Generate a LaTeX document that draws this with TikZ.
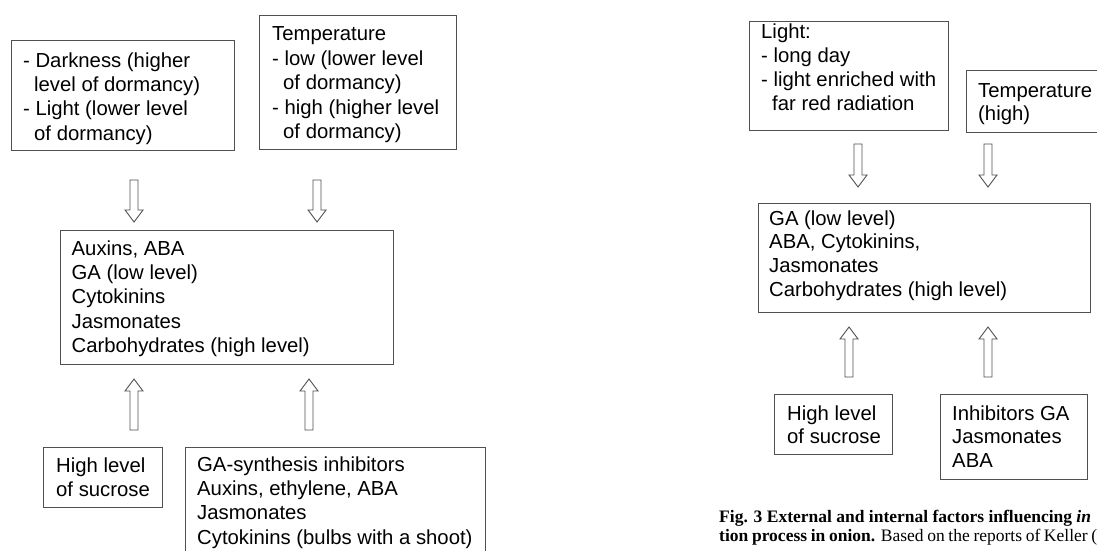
\documentclass[tikz,border=0pt]{standalone}
\usepackage{fontspec}
\setmainfont{Liberation Sans}
\newfontfamily\capfont{Liberation Serif}
\usetikzlibrary{calc}
\definecolor{boxgray}{HTML}{505050}
\tikzset{
  box/.style={draw=boxgray, line width=1pt, inner sep=0pt, anchor=north west, rectangle},
  txt/.style={inner sep=0pt, anchor=base west, font=\fontsize{20.3}{24.4}\selectfont},
  txtr/.style={inner sep=0pt, anchor=base west, font=\fontsize{20.3}{23.9}\selectfont},
  capt/.style={inner sep=0pt, anchor=base west, font=\capfont\fontsize{17.5}{19}\selectfont},
  arrowline/.style={draw=boxgray, line width=0.9pt, fill=white, line join=miter},
}
\newcommand\lns[1]{\begin{tabular}[t]{@{}l@{}}#1\end{tabular}}
\newcommand\hollowarrow[2]{%
  \draw[arrowline] let \p1=(#1), \p2=(#2), \p3=($(#2)!12pt!(#1)$) in
    (\x1-4pt,\y1) -- (\x1-4pt,\y3) -- (\x1-9pt,\y3) -- (\x2,\y2) --
    (\x1+9pt,\y3) -- (\x1+4pt,\y3) -- (\x1+4pt,\y1) -- cycle;}
\begin{document}
\begin{tikzpicture}[x=1pt,y=-1pt]
\useasboundingbox (0,0) rectangle (1097,551);
\clip (0,0) rectangle (1097,551);
\fill[white] (0,0) rectangle (1097,551);

% ---------------- left figure ----------------
\node[box, minimum width=223.5, minimum height=110] (b1) at (10.5,40) {};
\node[txt] (b1t) at (23,67) {\lns{- Darkness (higher\\ \hspace*{11pt}level of dormancy)\\ - Light (lower level\\ \hspace*{11pt}of dormancy)}};

\node[box, minimum width=197, minimum height=134] (b2) at (259,15) {};
\node[txt] (b2t) at (272,41) {\lns{Temperature\\ - low (lower level\\ \hspace*{11pt}of dormancy)\\ - high (higher level\\ \hspace*{11pt}of dormancy)}};

\node[box, minimum width=333, minimum height=134] (b3) at (60,230) {};
\node[txt] (b3t) at (71.5,255) {\lns{Auxins, ABA\\ GA (low level)\\ Cytokinins\\ Jasmonates\\ Carbohydrates (high level)}};

\node[box, minimum width=119, minimum height=60] (b4) at (43,447) {};
\node[txt] (b4t) at (56,472) {\lns{High level\\ of sucrose}};

\node[box, minimum width=300, minimum height=130] (b5) at (185,447) {};
\node[txt] (b5t) at (197,471) {\lns{GA-synthesis inhibitors\\ Auxins, ethylene, ABA\\ Jasmonates\\ Cytokinins (bulbs with a shoot)}};

\coordinate (d1s) at (134,180); \coordinate (d1e) at (134,222);
\coordinate (d2s) at (317,180); \coordinate (d2e) at (317,222);
\coordinate (u1s) at (134,430); \coordinate (u1e) at (134,379);
\coordinate (u2s) at (309,430); \coordinate (u2e) at (309,379);
\hollowarrow{d1s}{d1e}
\hollowarrow{d2s}{d2e}
\hollowarrow{u1s}{u1e}
\hollowarrow{u2s}{u2e}

% ---------------- right figure ----------------
\node[box, minimum width=199, minimum height=109] (r1) at (749,21) {};
\node[txtr] (r1t) at (761,39) {\lns{Light:\\ - long day\\ - light enriched with\\ \hspace*{11pt}far red radiation}};

\node[box, minimum width=160, minimum height=62] (r2) at (966,70) {};
\node[txtr] (r2t) at (978,97) {\lns{Temperature\\ (high)}};

\node[box, minimum width=332, minimum height=109] (r3) at (758,203) {};
\node[txtr] (r3t) at (769,225) {\lns{GA (low level)\\ ABA, Cytokinins,\\ Jasmonates\\ Carbohydrates (high level)}};

\node[box, minimum width=118, minimum height=60] (r4) at (774,394) {};
\node[txtr] (r4t) at (787,420) {\lns{High level\\ of sucrose}};

\node[box, minimum width=147, minimum height=85] (r5) at (940,394) {};
\node[txtr] (r5t) at (952,420) {\lns{Inhibitors GA\\ Jasmonates\\ ABA}};

\coordinate (d3s) at (858,144); \coordinate (d3e) at (858,187);
\coordinate (d4s) at (988,144); \coordinate (d4e) at (988,187);
\coordinate (u3s) at (849,377); \coordinate (u3e) at (849,327);
\coordinate (u4s) at (988,377); \coordinate (u4e) at (988,327);
\hollowarrow{d3s}{d3e}
\hollowarrow{d4s}{d4e}
\hollowarrow{u3s}{u3e}
\hollowarrow{u4s}{u4e}

% ---------------- caption ----------------
\node[capt] (cap1) at (719,522) {\textbf{Fig. 3 External and internal factors influencing \textit{in}}};
\node[capt] (cap2) at (719,541) {\makebox[378pt][s]{\textbf{tion process in onion.} Based on the reports of Keller (}};
\end{tikzpicture}
\end{document}
